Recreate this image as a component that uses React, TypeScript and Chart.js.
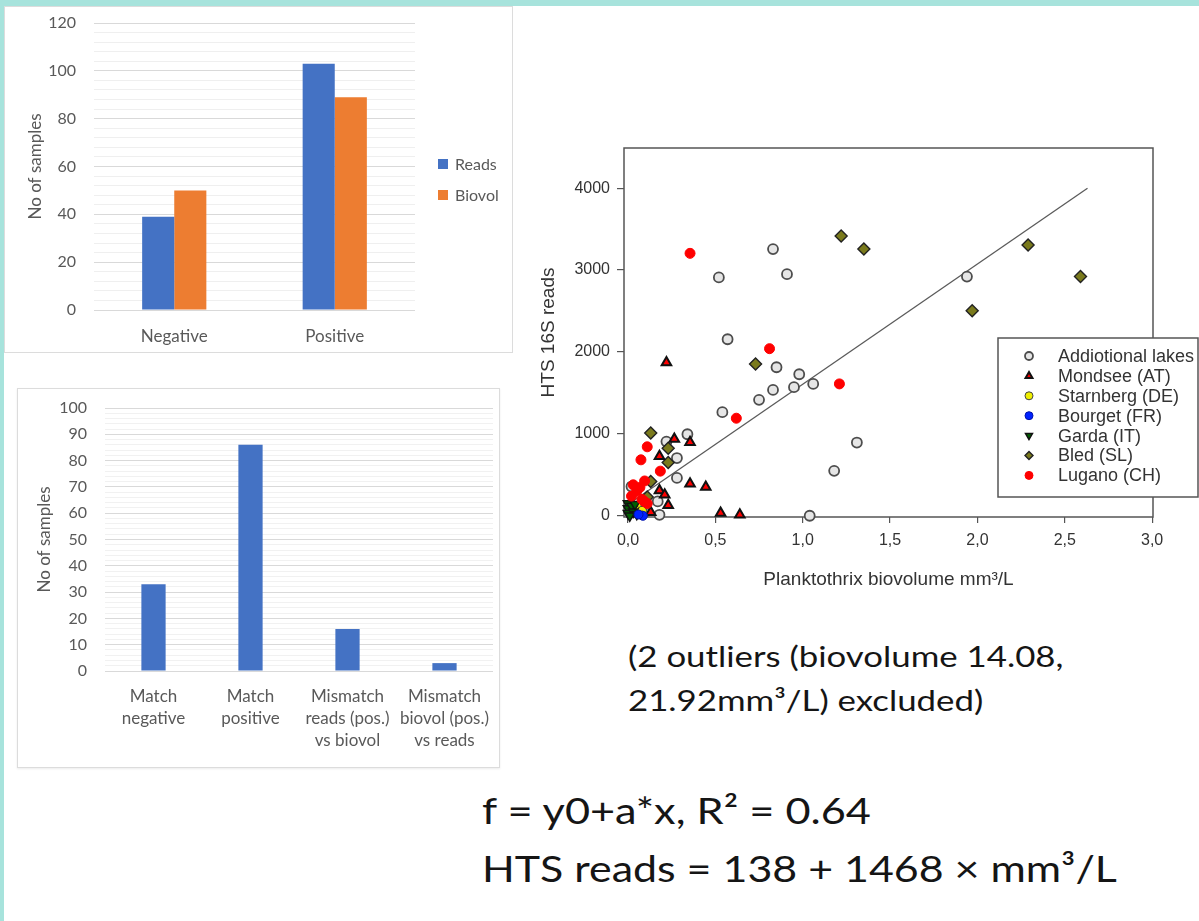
import React, { useEffect, useRef } from 'react';
import { Chart, registerables } from 'chart.js';
import { drawPoint } from 'chart.js/helpers';

Chart.register(...registerables);

// ---------- data: top-left bar chart ----------
const barCategories = ['Negative', 'Positive'];
const readsCounts = [39, 103];
const biovolCounts = [50, 89];

// ---------- data: bottom-left bar chart ----------
const matchCategories = [
  ['Match', 'negative'],
  ['Match', 'positive'],
  ['Mismatch', 'reads (pos.)', 'vs biovol'],
  ['Mismatch', 'biovol (pos.)', 'vs reads'],
];
const matchCounts = [33, 86, 16, 3];

// ---------- data: scatter ----------
const scatterXTicks = [0, 0.5, 1.0, 1.5, 2.0, 2.5, 3.0];
const scatterYTicks = [0, 1000, 2000, 3000, 4000];

const lakeNames = ['Addiotional lakes', 'Mondsee (AT)', 'Starnberg (DE)', 'Bourget (FR)', 'Garda (IT)', 'Bled (SL)', 'Lugano (CH)'];

const additionalX = [0.52, 0.83, 0.91, 1.94, 0.57, 0.85, 0.83, 0.75, 0.98, 0.95, 1.06, 0.54, 1.31, 1.18, 1.04, 0.34, 0.22, 0.28, 0.28, 0.17, 0.18, 0.02, 0.11];
const additionalY = [2910, 3256, 2950, 2920, 2155, 1813, 1537, 1415, 1728, 1570, 1610, 1265, 894, 549, 0, 995, 906, 705, 462, 175, 12, 357, 60];

const mondseeX = [0.22, 0.265, 0.355, 0.18, 0.355, 0.445, 0.18, 0.21, 0.23, 0.13, 0.53, 0.64];
const mondseeY = [1870, 937, 899, 728, 390, 350, 309, 256, 128, 42, 35, 12];

const starnbergX = [0.06, 0.04, 0.1, 0.03, 0.08];
const starnbergY = [110, 70, 130, 30, 60];

const bourgetX = [0.085, 0.06];
const bourgetY = [0, 15];

const gardaX = [0.0, 0.0, 0.0, 0.02, 0.03, 0.01, 0.05, 0.04];
const gardaY = [150, 90, 30, 120, 50, 0, 20, 140];

const bledX = [1.22, 1.35, 2.29, 2.59, 1.97, 0.73, 0.13, 0.23, 0.23, 0.13, 0.11, 0.03];
const bledY = [3415, 3256, 3305, 2920, 2504, 1854, 1010, 825, 650, 418, 230, 120];

const luganoX = [0.355, 0.81, 1.21, 0.62, 0.11, 0.074, 0.185, 0.03, 0.068, 0.095, 0.02, 0.08, 0.095, 0.05, 0.11];
const luganoY = [3204, 2040, 1610, 1191, 842, 683, 545, 378, 345, 425, 240, 200, 172, 300, 150];

// regression line endpoints
const fitX = [0.0, 2.63];
const fitY = [138, 3999];

const pts = (xs: number[], ys: number[]) => xs.map((x, i) => ({ x, y: ys[i] }));

const excelFont = 'Lato, "Open Sans", sans-serif';
const excelGray = '#595959';
const arialFont = '"Liberation Sans", Arial, sans-serif';
const plotText = '#333';
const blue = '#4472C4';
const orange = '#ED7D31';

// ---------- plugins ----------
const barLegendPlugin = {
  id: 'barLegend',
  afterDraw(chart: any) {
    const ctx = chart.ctx;
    ctx.save();
    ctx.font = `16px ${excelFont}`;
    ctx.textBaseline = 'middle';
    ctx.textAlign = 'left';
    const ys = [158, 189];
    chart.data.datasets.forEach((ds: any, i: number) => {
      ctx.fillStyle = ds.backgroundColor;
      ctx.fillRect(434, ys[i] - 5, 10, 10);
      ctx.fillStyle = excelGray;
      ctx.fillText(ds.label, 451, ys[i] + 1);
    });
    ctx.restore();
  },
};

const boxPlugin = {
  id: 'plotBox',
  beforeDatasetsDraw(chart: any) {
    const { ctx, chartArea } = chart;
    const { left, top, right, bottom } = chartArea;
    ctx.save();
    ctx.strokeStyle = '#555';
    ctx.lineWidth = 1.5;
    ctx.strokeRect(left, top, right - left, bottom - top);
    ctx.restore();
  },
};

const scatterLegendPlugin = {
  id: 'scatterLegend',
  afterDraw(chart: any) {
    const ctx = chart.ctx;
    ctx.save();
    ctx.fillStyle = '#fff';
    ctx.fillRect(468, 208, 210, 159);
    ctx.strokeStyle = '#555';
    ctx.lineWidth = 1.5;
    ctx.strokeRect(468, 208, 200, 159);
    ctx.font = `18px ${arialFont}`;
    ctx.textBaseline = 'middle';
    ctx.textAlign = 'left';
    chart.data.datasets.forEach((ds: any) => {
      const row = lakeNames.indexOf(ds.label);
      if (row < 0) return;
      const y = 226 + row * 19.9;
      ctx.fillStyle = ds.pointBackgroundColor;
      ctx.strokeStyle = ds.pointBorderColor;
      ctx.lineWidth = ds.pointBorderWidth;
      drawPoint(ctx, { pointStyle: ds.pointStyle, rotation: ds.pointRotation || 0, radius: 4, borderWidth: ds.pointBorderWidth }, 499, y);
      ctx.fillStyle = plotText;
      ctx.fillText(ds.label, 528, y + 1);
    });
    ctx.restore();
  },
};

// ---------- configs ----------
const bar1Config = (): any => ({
  type: 'bar',
  data: {
    labels: barCategories,
    datasets: [
      { label: 'Reads', data: readsCounts, backgroundColor: blue, categoryPercentage: 0.4, barPercentage: 1 },
      { label: 'Biovol', data: biovolCounts, backgroundColor: orange, categoryPercentage: 0.4, barPercentage: 1 },
    ],
  },
  options: {
    animation: false,
    responsive: false,
    devicePixelRatio: 1,
    layout: { padding: { top: 17, right: 99, left: 0, bottom: 0 } },
    plugins: { legend: { display: false }, tooltip: { enabled: false } },
    scales: {
      x: {
        grid: { display: false },
        border: { display: false },
        ticks: { font: { family: excelFont, size: 17 }, color: excelGray, padding: 8 },
        afterFit: (s: any) => { s.height = 44; },
      },
      y: {
        min: 0,
        max: 120,
        ticks: {
          stepSize: 4,
          autoSkip: false,
          callback: (v: any) => (v % 20 === 0 ? String(v) : ''),
          font: { family: excelFont, size: 16 },
          color: excelGray,
          padding: 18,
        },
        grid: { drawTicks: false, color: (c: any) => (c.tick && c.tick.value % 20 === 0 ? '#d9d9d9' : '#efefef'), lineWidth: 1 },
        border: { display: false },
        title: { display: true, text: 'No of samples', font: { family: excelFont, size: 17 }, color: excelGray, padding: { top: 21, bottom: 0 } },
        afterFit: (s: any) => { s.width = 90; s.paddingTop = 0; s.paddingBottom = 0; },
      },
    },
  },
  plugins: [barLegendPlugin],
});

const bar2Config = (): any => ({
  type: 'bar',
  data: {
    labels: matchCategories,
    datasets: [{ label: 'Samples', data: matchCounts, backgroundColor: blue, categoryPercentage: 1, barPercentage: 0.25 }],
  },
  options: {
    animation: false,
    responsive: false,
    devicePixelRatio: 1,
    layout: { padding: { top: 20, right: 7, left: 0, bottom: 0 } },
    plugins: { legend: { display: false }, tooltip: { enabled: false } },
    scales: {
      x: {
        grid: { display: false },
        border: { display: false },
        ticks: { font: { family: excelFont, size: 17, lineHeight: 1.3 }, color: excelGray, padding: 6, maxRotation: 0, autoSkip: false },
        afterFit: (s: any) => { s.height = 97; },
      },
      y: {
        min: 0,
        max: 100,
        ticks: {
          stepSize: 2,
          autoSkip: false,
          callback: (v: any) => (v % 10 === 0 ? String(v) : ''),
          font: { family: excelFont, size: 16 },
          color: excelGray,
          padding: 18,
        },
        grid: { drawTicks: false, color: (c: any) => (c.tick && c.tick.value % 10 === 0 ? '#d9d9d9' : '#f1f1f1'), lineWidth: 1 },
        border: { display: false },
        title: { display: true, text: 'No of samples', font: { family: excelFont, size: 17 }, color: excelGray, padding: { top: 17, bottom: 0 } },
        afterFit: (s: any) => { s.width = 88; s.paddingTop = 0; s.paddingBottom = 0; },
      },
    },
  },
});

const pointSet = (label: string, xs: number[], ys: number[], style: any, order: number) => ({
  label,
  data: pts(xs, ys),
  pointStyle: style.pointStyle,
  pointRotation: style.rotation || 0,
  pointRadius: style.radius,
  pointBackgroundColor: style.fill,
  backgroundColor: style.fill,
  pointBorderColor: style.stroke,
  borderColor: style.stroke,
  pointBorderWidth: style.width,
  clip: false,
  order,
});

const scatterConfig = (): any => ({
  type: 'scatter',
  data: {
    datasets: [
      { type: 'line', label: 'fit', data: pts(fitX, fitY), borderColor: '#5a5a5a', borderWidth: 1.3, pointRadius: 0, fill: false, order: 20 },
      pointSet(lakeNames[0], additionalX, additionalY, { pointStyle: 'circle', radius: 5, fill: '#e6e6e6', stroke: '#4d4d4d', width: 1.8 }, 7),
      pointSet(lakeNames[1], mondseeX, mondseeY, { pointStyle: 'triangle', radius: 5.5, fill: '#ff0000', stroke: '#111', width: 2 }, 5),
      pointSet(lakeNames[2], starnbergX, starnbergY, { pointStyle: 'circle', radius: 4.5, fill: '#f0f000', stroke: '#444', width: 1 }, 4),
      pointSet(lakeNames[3], bourgetX, bourgetY, { pointStyle: 'circle', radius: 4.5, fill: '#0022ff', stroke: '#0011aa', width: 1 }, 2),
      pointSet(lakeNames[4], gardaX, gardaY, { pointStyle: 'triangle', rotation: 180, radius: 5.5, fill: '#006000', stroke: '#111', width: 1.5 }, 3),
      pointSet(lakeNames[5], bledX, bledY, { pointStyle: 'rectRot', radius: 6, fill: '#7a7a1c', stroke: '#222', width: 1.4 }, 6),
      pointSet(lakeNames[6], luganoX, luganoY, { pointStyle: 'circle', radius: 5, fill: '#ff0000', stroke: '#ff0000', width: 1 }, 1),
    ],
  },
  options: {
    animation: false,
    responsive: false,
    devicePixelRatio: 1,
    layout: { padding: { top: 18, right: 46, left: 0, bottom: 0 } },
    plugins: { legend: { display: false }, tooltip: { enabled: false } },
    scales: {
      x: {
        type: 'linear',
        min: -0.023,
        max: 3.005,
        afterBuildTicks: (s: any) => { s.ticks = scatterXTicks.map((v) => ({ value: v })); },
        afterFit: (s: any) => { s.height = 93; },
        grid: { drawOnChartArea: false, drawTicks: true, tickLength: 6, color: '#555', lineWidth: 1.2 },
        border: { display: false },
        ticks: {
          autoSkip: false,
          maxRotation: 0,
          callback: (v: any) => Number(v).toFixed(1).replace('.', ','),
          font: { family: arialFont, size: 16 },
          color: plotText,
          padding: 8,
        },
        title: { display: true, text: 'Planktothrix biovolume mm³/L', font: { family: arialFont, size: 19 }, color: plotText, padding: { top: 0, bottom: 19 } },
      },
      y: {
        type: 'linear',
        min: -15,
        max: 4490,
        afterBuildTicks: (s: any) => { s.ticks = scatterYTicks.map((v) => ({ value: v })); },
        afterFit: (s: any) => { s.width = 94; },
        grid: { drawOnChartArea: false, drawTicks: true, tickLength: 7, color: '#555', lineWidth: 1.2 },
        border: { display: false },
        ticks: {
          autoSkip: false,
          callback: (v: any) => String(v),
          font: { family: arialFont, size: 16 },
          color: plotText,
          padding: 7,
        },
        title: { display: true, text: 'HTS 16S reads', font: { family: arialFont, size: 19 }, color: plotText, padding: { top: 7, bottom: 0 } },
      },
    },
  },
  plugins: [boxPlugin, scatterLegendPlugin],
});

// ---------- components ----------
function ChartBox({ config, left, top, width, height }: { config: () => any; left: number; top: number; width: number; height: number }) {
  const ref = useRef<HTMLCanvasElement>(null);
  useEffect(() => {
    const chart = new Chart(ref.current as HTMLCanvasElement, config());
    return () => chart.destroy();
  }, []);
  return (
    <div style={{ position: 'absolute', left, top, width, height }}>
      <canvas ref={ref} width={width} height={height} style={{ display: 'block', width, height }} />
    </div>
  );
}

function TextLine({ text, left, top, size, scale }: { text: string; left: number; top: number; size: number; scale: number }) {
  return (
    <div
      style={{
        position: 'absolute',
        left,
        top,
        fontFamily: excelFont,
        fontSize: size,
        lineHeight: 1.2,
        color: '#151515',
        whiteSpace: 'nowrap',
        transform: `scaleX(${scale})`,
        transformOrigin: 'left top',
      }}
    >
      {text}
    </div>
  );
}

export default function App() {
  useEffect(() => {
    document.body.style.margin = '0';
  }, []);
  const teal = '#a7e3dc';
  return (
    <div style={{ position: 'relative', width: 1199, height: 921, background: '#fff', overflow: 'hidden' }}>
      <div style={{ position: 'absolute', left: 0, top: 0, width: 1199, height: 6, background: teal }} />
      <div style={{ position: 'absolute', left: 0, top: 0, width: 4, height: 921, background: teal }} />

      <div style={{ position: 'absolute', left: 4, top: 6, width: 509, height: 347, border: '1px solid #dcdcdc', boxSizing: 'border-box' }} />
      <ChartBox config={bar1Config} left={4} top={6} width={510} height={348} />

      <div style={{ position: 'absolute', left: 17, top: 388, width: 483, height: 380, border: '1px solid #dcdcdc', boxSizing: 'border-box', boxShadow: '0 1px 2px rgba(0,0,0,0.08)' }} />
      <ChartBox config={bar2Config} left={17} top={388} width={483} height={380} />

      <ChartBox config={scatterConfig} left={530} top={130} width={669} height={480} />

      <TextLine text="(2 outliers (biovolume 14.08," left={628} top={639} size={29} scale={1.2} />
      <TextLine text="21.92mm³/L) excluded)" left={628} top={683} size={29} scale={1.2} />

      <TextLine text="f = y0+a*x, R² = 0.64" left={482} top={788} size={37} scale={1.17} />
      <TextLine text="HTS reads = 138 + 1468 × mm³/L" left={482} top={846} size={37} scale={1.16} />
    </div>
  );
}
